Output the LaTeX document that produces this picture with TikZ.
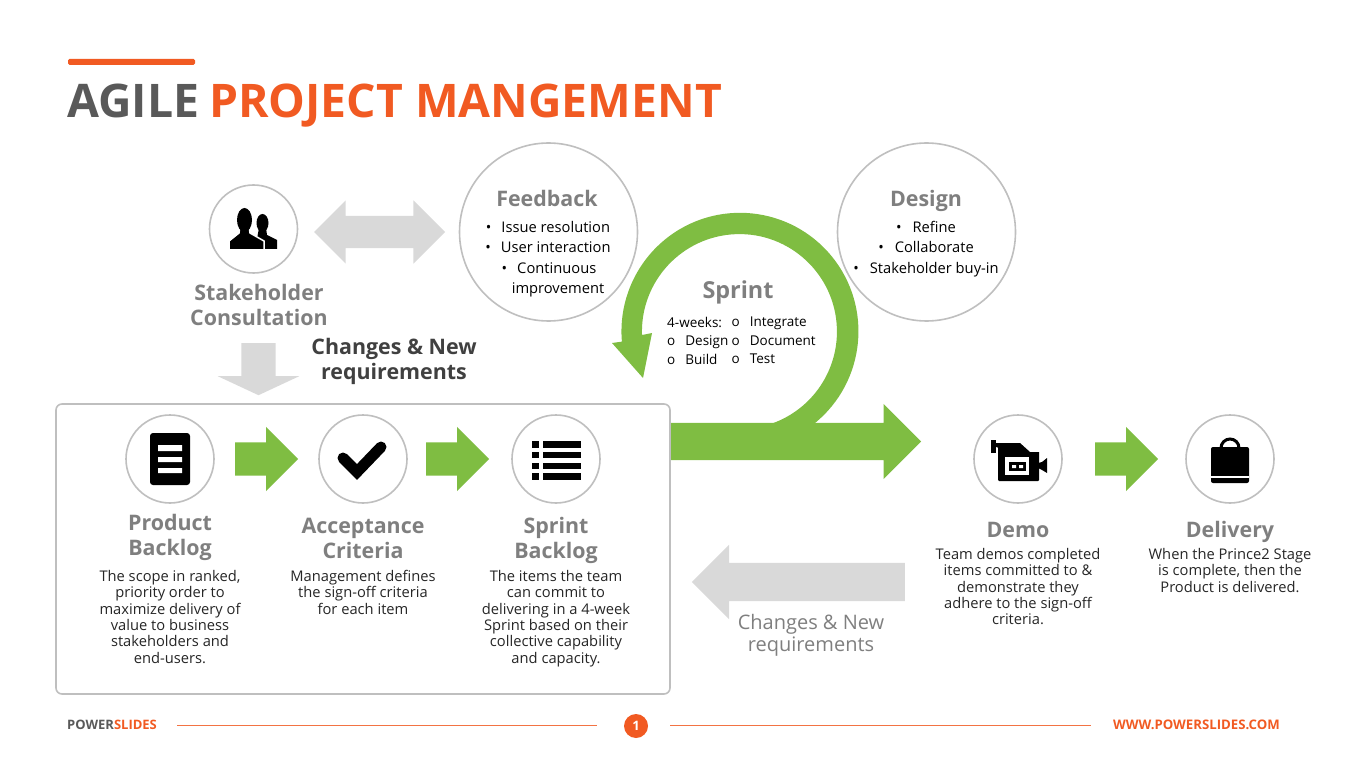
\documentclass[tikz,border=0pt]{standalone}
\usepackage{fontspec}
\setmainfont{Open Sans}
\usetikzlibrary{shapes.arrows}
\definecolor{orng}{HTML}{F15A22}
\definecolor{grn}{HTML}{7FBD42}
\definecolor{lgray}{HTML}{D9D9D9}
\definecolor{rgray}{HTML}{BFBFBF}
\definecolor{hgray}{HTML}{7F7F7F}
\definecolor{dgray}{HTML}{595959}
\newcommand{\fsz}[2]{\fontsize{#1}{#2}\selectfont}
\tikzset{
  ring/.style={circle,draw=rgray,line width=1.6pt,fill=white,inner sep=0pt,minimum size=#1},
  head/.style={font=\fsz{21.4}{25}\bfseries,text=hgray,align=center,inner sep=0pt},
  body/.style={font=\fsz{14.7}{16.4}\selectfont,text=black!85,align=center,inner sep=0pt},
  list/.style={font=\fsz{14.7}{20.4}\selectfont,text=black,align=center,inner sep=0pt},
  slist/.style={font=\fsz{13.5}{18.5}\selectfont,text=black,align=left,inner sep=0pt,anchor=north west},
  garrow/.style={single arrow,anchor=tail,fill=grn,inner xsep=0pt,inner ysep=16.5pt,minimum height=63pt,minimum width=64pt,single arrow head extend=15.5pt},
  ico/.style={fill=black,draw=none}
}
\begin{document}
\begin{tikzpicture}[x=1pt,y=1pt,yscale=-1]
    \useasboundingbox (0,0) rectangle (1365,767);

    \fill[orng,rounded corners=1.5pt] (68,59) rectangle (195,65);
    \node (title) [anchor=west,inner sep=0pt,font=\fsz{46.3}{50}\bfseries] at (67,106) {\textcolor{dgray}{AGILE}\hspace{10pt}\textcolor{orng}{PROJECT MANGEMENT}};

    \node (stake) [ring=88pt] at (253.5,229) {};
    \node (feedback) [ring=178pt] at (548.5,232) {};
    \node (design) [ring=178pt] at (926.5,232) {};
    \node (both) [double arrow,fill=lgray,inner xsep=0pt,inner ysep=16pt,minimum height=131pt,minimum width=63pt,double arrow head extend=15.5pt] at (379.5,232) {};
    \node (down) [single arrow,anchor=tail,shape border rotate=270,fill=lgray,inner sep=17pt,minimum height=52pt,minimum width=81pt,single arrow head extend=23.5pt,single arrow tip angle=130] at (258.5,343) {};

    \node (stakelbl) [head] at (259,304.5) {Stakeholder\\Consultation};
    \node (changes) [head,text=black!75] at (394,361) {Changes \& New\\requirements};
    \node (feedlbl) [head] at (547,198) {Feedback};
    \node (designlbl) [head] at (926,201) {Design};
    \node (sprintlbl) [head,font=\fsz{23.4}{28}\bfseries] at (738,292) {Sprint};

    \node (feedlist) [list] at (548,259) {•\hspace{10pt}Issue resolution\\•\hspace{10pt}User interaction\\\hspace{2pt}•\hspace{10pt}Continuous\\\hspace{20pt}improvement};
    \node (designlist) [list] at (926,249) {•\hspace{11pt}Refine\\•\hspace{11pt}Collaborate\\•\hspace{11pt}Stakeholder buy-in};

    % sprint loop
    \fill[grn] (815,423) arc[start angle=50.7,end angle=-185,radius=118.5pt] -- (612,343) -- (643,378) -- (652,333) -- (642,335) arc[start angle=-182,end angle=69.8,radius=97.5pt] -- cycle;
    \node (bigarrow) [single arrow,anchor=tail,fill=grn,inner xsep=0pt,inner ysep=18.5pt,minimum height=250pt,minimum width=75pt,single arrow head extend=19pt] at (671,441.5) {};

    \node (sprintlist) [slist] at (667,317) {4-weeks:\\o\hspace{10pt}Design\\o\hspace{10pt}Build};
    \node (sprintlist2) [slist] at (731.5,317) {o\hspace{10pt}Integrate\\o\hspace{10pt}Document\\o\hspace{10pt}Test};

    \node (box) [draw=rgray,line width=1.6pt,rounded corners=6pt,fill=white,inner sep=0pt,minimum width=614pt,minimum height=290pt] at (363,549) {};

    \node (product) [ring=88pt] at (170,459) {};
    \node (accept) [ring=88pt] at (363,459) {};
    \node (backlog) [ring=88pt] at (556,459) {};
    \node (demo) [ring=88pt] at (1018,459) {};
    \node (delivery) [ring=88pt] at (1230,459) {};

    \node (arr1) [garrow] at (235,459) {};
    \node (arr2) [garrow] at (426,459) {};
    \node (arr3) [garrow] at (1095,459) {};
    \node (back) [single arrow,anchor=tail,shape border rotate=180,fill=lgray,inner xsep=0pt,inner ysep=19pt,minimum height=213pt,minimum width=74pt,single arrow head extend=18pt] at (905,582) {};

    % icons
    \fill[ico,rounded corners=3pt] (150,433) rectangle (190,485);
    \fill[white] (158,445) rectangle (182,451) (158,457) rectangle (182,462) (158,468) rectangle (182,473);

    \draw[line width=11pt,line cap=round] (343,458) -- (357,472) -- (381,447);

    \foreach \y/\h in {441/448,452/458,463/469,473/480}{
      \fill[ico] (532,\y) rectangle (539,\h);
      \fill[ico] (543,\y) rectangle (581,\h);
    }

    \fill[ico] (991,440) rectangle (996,453);
    \fill[ico] (991,443) -- (1020,443) -- (1030,452) -- (1039,452) [rounded corners=1pt] -- (1039,481) -- (998,481) -- (998,447) -- (991,447) -- cycle;
    \fill[ico] (1038,463) -- (1042,462) -- (1047,458) -- (1047,473) -- (1042,470) -- (1038,468) -- cycle;
    \fill[white] (1005,457) rectangle (1029,475);
    \fill[ico] (1009,462) rectangle (1026,471);
    \fill[white] (1012,465) rectangle (1016,468) (1019,465) rectangle (1023,468);

    \draw[line width=3pt] (1221,448) arc[start angle=180,end angle=360,radius=9pt];
    \fill[ico,rounded corners=2pt] (1211,447) rectangle (1249,483);
    \fill[white] (1211,476) rectangle (1249,478);

    \fill[ico] (262.5,223) ellipse[x radius=6pt,y radius=9pt];
    \fill[ico] (259,228) -- (266,228) -- (267,235) -- (277,240) -- (277,249.5) -- (255,249.5) -- cycle;
    \fill[ico,draw=white,line width=1.5pt] (240,226) -- (249,226) -- (250,233) -- (264,241) -- (264,251) -- (229,251) -- (229,241) -- (239,233) -- cycle;
    \fill[ico] (244.5,220) ellipse[x radius=7.5pt,y radius=12pt];
    \fill[white] (225,249.5) rectangle (280,252);

    \node (productlbl) [head] at (170,537) {Product\\Backlog};
    \node (acceptlbl) [head] at (363,538.5) {Acceptance\\Criteria};
    \node (backloglbl) [head] at (556,540) {Sprint\\Backlog};
    \node (demolbl) [head] at (1018,530) {Demo};
    \node (deliverylbl) [head] at (1230,532) {Delivery};

    \node (producttxt) [body,anchor=north] at (170,570) {The scope in ranked,\\priority order to\\maximize delivery of\\value to business\\stakeholders and\\end-users.};
    \node (accepttxt) [body,anchor=north] at (363,570) {Management defines\\the sign-off criteria\\for each item};
    \node (backlogtxt) [body,anchor=north] at (556,570) {The items the team\\can commit to\\delivering in a 4-week\\Sprint based on their\\collective capability\\and capacity.};
    \node (demotxt) [body,anchor=north] at (1018,548) {Team demos completed\\items committed to \&\\demonstrate they\\adhere to the sign-off\\criteria.};
    \node (deliverytxt) [body,anchor=north] at (1230,548) {When the Prince2 Stage\\is complete, then the\\Product is delivered.};

    \node (changes2) [head,font=\fsz{20}{22}\selectfont] at (811,635) {Changes \& New\\requirements};

    \node (brand) [anchor=west,inner sep=0pt,font=\fsz{13}{14}\bfseries] at (67,724.5) {\textcolor{dgray}{POWER}\textcolor{orng}{SLIDES}};
    \node (page) [circle,fill=orng,text=white,inner sep=0pt,minimum size=24pt,font=\fsz{13}{14}\bfseries] at (636,726) {1};
    \node (web) [anchor=east,inner sep=0pt,text=orng,font=\fsz{13.2}{14}\bfseries] at (1280,724.5) {WWW.POWERSLIDES.COM};
    \coordinate (a1) at (177,725);
    \coordinate (a2) at (597,725);
    \coordinate (b1) at (670,725);
    \coordinate (b2) at (1091,725);
    \draw[orng!85,line width=0.9pt] (a1) -- (a2) (b1) -- (b2);
\end{tikzpicture}
\end{document}
